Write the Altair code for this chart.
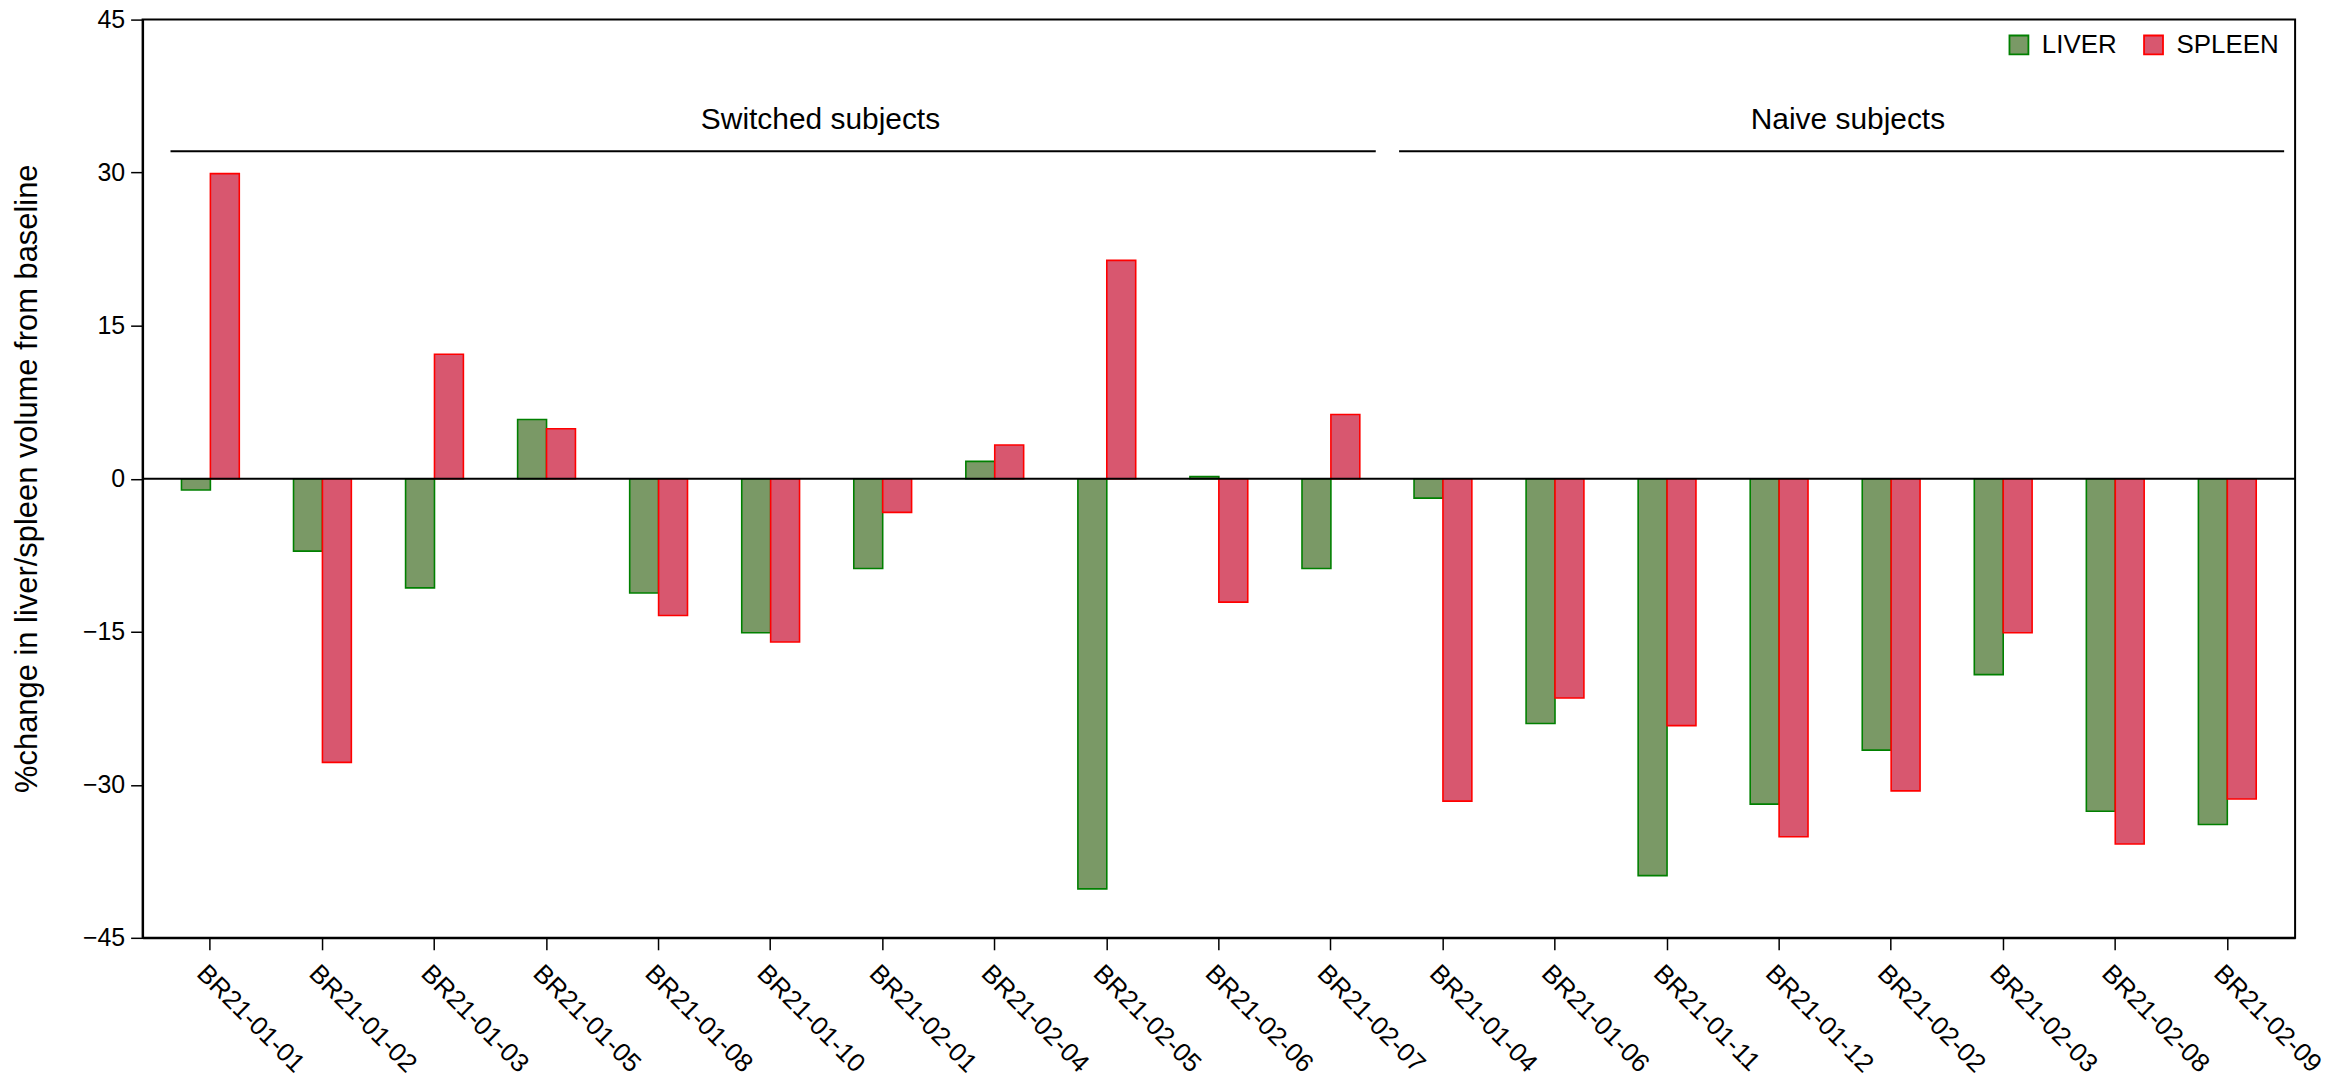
import altair as alt
import pandas as pd

subjects = ["BR21-01-01", "BR21-01-02", "BR21-01-03", "BR21-01-05", "BR21-01-08",
            "BR21-01-10", "BR21-02-01", "BR21-02-04", "BR21-02-05", "BR21-02-06",
            "BR21-02-07", "BR21-01-04", "BR21-01-06", "BR21-01-11", "BR21-01-12",
            "BR21-02-02", "BR21-02-03", "BR21-02-08", "BR21-02-09"]
liver = [-1.1, -7.1, -10.7, 5.8, -11.2, -15.1, -8.8, 1.7, -40.2, 0.2, -8.8,
         -1.9, -24.0, -38.9, -31.9, -26.6, -19.2, -32.6, -33.9]
spleen = [29.9, -27.8, 12.2, 4.9, -13.4, -16.0, -3.3, 3.3, 21.4, -12.1, 6.3,
          -31.6, -21.5, -24.2, -35.1, -30.6, -15.1, -35.8, -31.4]
organs = ["LIVER", "SPLEEN"]
fill_colors = ["#7A9966", "#D8576F"]
stroke_colors = ["#008000", "#FF0000"]

groups = ["Switched subjects", "Naive subjects"]
group_first = ["BR21-01-01", "BR21-01-04"]
group_last = ["BR21-02-07", "BR21-02-09"]
group_label_at = ["BR21-01-10", "BR21-01-12"]
group_label_dx = [50, 69]
group_line_start_off = [-40, -44]
group_line_end_off = [45, 57]
group_line_y = 32.1
group_text_y = 35.2
y_ticks = [-45, -30, -15, 0, 15, 30, 45]

rows = []
for s, lv, sp in zip(subjects, liver, spleen):
    rows.append({"subject": s, "organ": "LIVER", "value": lv})
    rows.append({"subject": s, "organ": "SPLEEN", "value": sp})
df = pd.DataFrame(rows)

FONT = "Liberation Sans"
xscale = alt.Scale(domain=subjects, paddingInner=0.484, paddingOuter=0.347)
yscale = alt.Scale(domain=[-45, 45], nice=False, zero=False)

x_axis = alt.Axis(title=None, labelAngle=45, labelAlign="left", labelBaseline="top",
                  labelFontSize=26, labelPadding=10, tickSize=12, labelFont=FONT)
y_axis = alt.Axis(values=y_ticks, title="%change in liver/spleen volume from baseline",
                  titleFontSize=31, titleFont=FONT, titleFontWeight="normal",
                  titleAngle=-90, titleX=-115, titleY=460, titleAlign="center",
                  titleBaseline="middle",
                  labelFontSize=25, labelFont=FONT, labelPadding=6, tickSize=12)

legend = alt.Legend(title=None, orient="none", legendX=1869, legendY=12,
                    direction="horizontal", symbolType="square", symbolSize=361,
                    symbolStrokeWidth=1.8, labelFontSize=26, labelFont=FONT,
                    labelOffset=10, columnPadding=22, padding=0)

bars = alt.Chart(df).mark_bar(strokeWidth=1.6).encode(
    x=alt.X("subject:N", scale=xscale, sort=subjects, axis=x_axis),
    xOffset=alt.XOffset("organ:N", scale=alt.Scale(domain=organs, paddingInner=0, paddingOuter=0)),
    y=alt.Y("value:Q", scale=yscale, axis=y_axis),
    fill=alt.Fill("organ:N", scale=alt.Scale(domain=organs, range=fill_colors), legend=legend),
    stroke=alt.Stroke("organ:N", scale=alt.Scale(domain=organs, range=stroke_colors), legend=legend),
)

zero = alt.Chart(pd.DataFrame({"z": [0]})).mark_rule(color="black", strokeWidth=2).encode(
    y=alt.Y("z:Q", scale=yscale, axis=y_axis)
)

layers = [bars, zero]
for i in range(len(groups)):
    gdf = pd.DataFrame({"group": [groups[i]], "first": [group_first[i]],
                        "last": [group_last[i]], "at": [group_label_at[i]],
                        "ly": [group_line_y], "ty": [group_text_y]})
    rule = alt.Chart(gdf).mark_rule(color="black", strokeWidth=2,
                                    xOffset=group_line_start_off[i],
                                    x2Offset=group_line_end_off[i]).encode(
        x=alt.X("first:N", scale=xscale, sort=subjects, axis=x_axis),
        x2="last:N",
        y=alt.Y("ly:Q", scale=yscale, axis=y_axis),
    )
    text = alt.Chart(gdf).mark_text(fontSize=30, font=FONT, color="black",
                                    dx=group_label_dx[i], baseline="middle").encode(
        x=alt.X("at:N", scale=xscale, sort=subjects, axis=x_axis),
        y=alt.Y("ty:Q", scale=yscale, axis=y_axis),
        text="group:N",
    )
    layers += [rule, text]

chart = alt.layer(*layers).properties(
    width=2159, height=921,
    autosize=alt.AutoSizeParams(type="none"),
    padding={"left": 135, "top": 10, "right": 33, "bottom": 150},
).configure_view(
    stroke="black", strokeWidth=2
).configure_axis(
    domainColor="black", domainWidth=2, tickColor="black", tickWidth=1.5,
    labelColor="black", grid=False
)

chart.save("out.html", embed_options={"renderer": "svg", "actions": False})
